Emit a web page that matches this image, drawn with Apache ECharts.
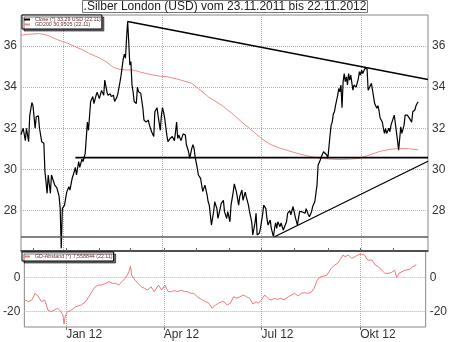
<!DOCTYPE html>
<html><head><meta charset="utf-8">
<script src="https://cdn.jsdelivr.net/npm/echarts@6/dist/echarts.min.js"></script>
<style>html,body{margin:0;padding:0;background:#fff}#c{width:450px;height:342px}</style>
</head><body><div id="c"></div><script>
const titleText = '.Silber London (USD) vom 23.11.2011 bis 22.11.2012';
// x values are days since 23.11.2011
const quarterDays = [39, 130, 221, 313];
const quarterLabels = ['Jan 12', 'Apr 12', 'Jul 12', 'Okt 12'];
const monthDays = [8, 39, 70, 99, 130, 160, 191, 221, 252, 283, 313, 344];
const priceTicks = [28, 30, 32, 34, 36];
const spreadTicks = [-20, 0];
const closeName = 'Close (*) 33,29 USD (22.11)';
const gdName = 'GD200 30,9505 (22.11)';
const spreadName = 'GD-Abstand (*) 7,558844 (22.11)';

const closeData = [[0,31.7],[2,32.0],[4,31.4],[5,32.0],[7,31.35],[8,32.6],[10,33.25],[11,33.1],[13,32.0],[14,32.56],[16,32.6],[17,32.0],[19,31.35],[21,31.27],[22,29.9],[24,28.84],[25,29.73],[27,28.84],[28,29.73],[30,29.4],[31,29.24],[33,29.1],[35,28.7],[36,28.1],[37,26.17],[38,28.1],[40,28.27],[42,28.9],[44,29.16],[45,29.0],[47,29.57],[48,29.73],[50,30.1],[51,29.73],[53,30.38],[54,30.1],[56,30.5],[57,30.38],[59,30.78],[60,30.86],[61,32.3],[62,31.9],[63,31.83],[64,33.3],[66,33.54],[67,33.2],[69,33.6],[70,33.75],[72,33.44],[74,33.84],[76,33.6],[77,34.34],[79,33.75],[80,33.6],[82,33.67],[83,33.54],[85,33.6],[86,33.3],[88,33.5],[89,33.67],[91,34.26],[92,34.58],[94,35.39],[95,35.6],[96,35.4],[97,36.36],[98,37.2],[99,36.2],[100,35.07],[101,35.23],[102,34.1],[103,33.77],[104,33.3],[106,33.2],[107,34.0],[108,33.77],[110,33.7],[112,32.97],[113,32.4],[115,32.3],[117,32.4],[118,32.15],[120,31.83],[122,31.6],
[123,32.8],[125,33.0],[126,32.6],[128,31.9],[129,32.6],[130,33.0],[131,32.8],[132,32.5],[134,31.67],[135,31.35],[137,31.5],[139,31.6],[141,31.4],[142,31.83],[143,32.3],[144,31.5],[145,31.67],[147,31.4],[149,31.73],[151,31.67],[152,31.2],[154,30.86],[155,30.54],[157,31.03],[158,31.2],[159,31.03],[160,30.62],[162,30.05],[163,29.73],[165,29.57],[167,28.93],[169,29.24],[171,28.76],[172,28.43],[173,28.27],[175,27.3],[177,27.95],[178,28.43],[180,28.1],[181,27.62],[183,28.1],[184,28.35],[186,28.5],[187,27.95],[189,27.62],[190,27.95],[192,27.46],[193,28.27],[195,28.9],[196,29.3],[198,28.9],[200,28.27],[201,28.68],[203,29.0],[204,28.5],[206,28.9],[207,28.68],[209,28.27],[210,27.95],[212,27.46],[213,26.82],[215,27.4],[216,27.87],[217,26.82],[219,26.9],[220,27.14],[222,27.8],[223,28.27],[225,28.1],[226,27.62],[227,27.3],[229,27.54],[230,27.14],[232,26.73],[233,27.14],[234,27.4],[235,27.14],[236,27.46],[238,27.22],[239,27.4],[241,27.06],[242,27.14],[244,27.46],[245,27.87],
[247,28.0],[248,27.8],[250,28.2],[252,27.7],[254,27.3],[255,27.62],[256,27.95],[258,27.95],[259,28.0],[261,27.87],[262,28.1],[264,27.8],[265,27.7],[267,27.95],[268,28.2],[270,28.43],[272,29.24],[273,30.2],[275,30.46],[276,30.62],[278,30.86],[279,30.78],[281,30.7],[282,30.54],[283,30.62],[284,31.67],[285,32.15],[286,32.3],[287,32.7],[288,32.8],[289,33.1],[291,33.6],[292,33.93],[293,33.77],[294,34.1],[295,33.0],[296,34.26],[297,34.66],[298,34.26],[299,34.5],[300,34.1],[301,34.66],[302,34.34],[303,34.58],[305,33.85],[306,34.1],[307,34.18],[308,34.0],[310,34.42],[311,34.75],[312,34.58],[313,34.82],[314,34.66],[316,34.9],[317,34.99],[318,34.9],[319,33.85],[320,33.93],[322,34.18],[323,33.85],[324,33.77],[325,33.2],[327,32.97],[328,33.1],[329,32.85],[330,32.5],[332,32.3],[333,32.0],[334,31.75],[335,32.0],[336,31.75],[338,32.0],[339,31.83],[340,32.15],[342,32.48],[343,32.64],[344,32.23],[346,31.4],[347,30.94],[348,31.5],[349,32.07],[350,31.75],[352,32.15],[353,32.64],[354,32.56],[355,32.64],[357,32.48],[358,32.4],[359,32.3],[360,32.8],[362,32.9],[363,33.1],[364,33.2],[365,33.29]];

const gd200Data = [[0,36.52],[8,36.57],[17,36.6],[24,36.52],[30,36.38],[36,36.25],[42,36.15],[48,36.0],[57,35.8],[63,35.62],[72,35.42],[79,35.2],[85,34.95],[91,34.86],[97,34.83],[103,34.83],[109,34.74],[118,34.62],[128,34.53],[135,34.5],[147,34.34],[157,34.18],[163,33.93],[172,33.53],[184,33.13],[194,32.72],[203,32.3],[212,31.9],[221,31.5],[229,31.22],[236,31.07],[245,30.92],[256,30.75],[265,30.64],[274,30.55],[284,30.5],[293,30.48],[302,30.5],[311,30.54],[320,30.7],[330,30.88],[339,30.98],[348,31.02],[357,31.0],[365,30.95]];

const spreadData = [[0,-13.0],[4,-14.2],[7,-13.2],[10,-9.3],[13,-11.3],[16,-14.2],[19,-13.2],[22,-19.0],[25,-20.0],[28,-19.0],[31,-18.0],[34,-20.0],[36,-21.9],[37,-27.2],[38,-22.9],[40,-20.0],[43,-19.4],[48,-17.1],[53,-16.1],[57,-14.2],[60,-11.3],[63,-8.3],[66,-5.5],[69,-4.5],[72,-4.5],[76,-3.5],[79,-2.5],[82,-3.5],[85,-3.5],[88,-4.5],[91,-2.5],[94,-0.6],[96,1.3],[98,4.2],[99,6.6],[100,1.3],[103,-1.6],[106,-3.5],[109,-5.5],[112,-6.4],[115,-7.4],[118,-5.5],[121,-8.3],[125,-4.5],[128,-7.4],[131,-4.5],[134,-8.3],[137,-8.3],[140,-7.7],[143,-8.3],[146,-7.4],[149,-8.3],[152,-8.3],[155,-9.3],[158,-9.3],[161,-11.3],[166,-13.2],[169,-14.2],[172,-15.1],[175,-18.0],[178,-16.1],[181,-15.1],[184,-14.2],[186,-14.2],[189,-16.1],[192,-15.1],[195,-11.3],[198,-12.2],[201,-11.3],[204,-10.3],[207,-11.3],[210,-12.2],[213,-15.5],[216,-14.2],[218,-15.1],[221,-13.2],[224,-10.3],[228,-12.8],[230,-13.2],[233,-12.2],[236,-12.8],[239,-12.2],[242,-13.2],[246,-11.3],[249,-10.3],[252,-9.3],[255,-10.9],[258,-9.3],[261,-8.9],[264,-9.3],[267,-8.9],[270,-6.4],[273,-1.6],[276,0.4],[280,0.8],[282,1.3],[286,5.2],[289,7.1],[292,8.1],[295,11.0],[297,13.0],[299,12.0],[302,13.0],[305,11.0],[308,12.0],[311,13.0],[314,13.5],[317,13.0],[320,10.0],[324,10.0],[327,7.1],[330,6.2],[333,4.2],[336,2.3],[339,2.3],[342,2.7],[345,4.2],[347,0.0],[349,2.3],[352,3.3],[355,4.2],[359,4.6],[362,6.2],[364,6.6],[365,7.56]];

const resistanceLine = [[98,37.18],[374,34.37]];
const neckLine = [[50,30.57],[374,30.57]];
const supportLine = [[233,26.73],[374,30.40]];
const lowLine = [[0,26.72],[374,26.72]];

const FONT = 'Liberation Sans, Arial, sans-serif';
const dotted = {show:true, lineStyle:{color:'#b0b0b0', type:'dotted', width:1}};
const qFormatter = v => { const i = quarterDays.indexOf(v); return i >= 0 ? quarterLabels[i] : ''; };

function yAx(grid, pos, min, max, ticks, split) {
  return {gridIndex:grid, type:'value', position:pos, min:min, max:max,
    axisLine:{show:false}, axisTick:{show:false, customValues:ticks},
    axisLabel:{customValues:ticks, margin:4, fontSize:12, color:'#333', fontFamily:FONT},
    splitLine: split ? dotted : {show:false}};
}
function trend(name, data, color, width) {
  return {type:'line', name:name, xAxisIndex:0, yAxisIndex:0, data:data, symbol:'none',
    color:color, lineStyle:{color:color, width:width}, z:5, silent:true};
}
const legendBase = {orient:'vertical', left:22, padding:[2,1,2,2], itemWidth:6, itemHeight:2, itemGap:0,
  icon:'rect', selectedMode:false, backgroundColor:'#fff', borderColor:'#000', borderWidth:1,
  shadowColor:'rgba(0,0,0,0.55)', shadowOffsetX:2, shadowOffsetY:2, shadowBlur:0,
  textStyle:{fontSize:5.3, lineHeight:5, color:'#6b2f2f', fontFamily:FONT}};

const option = {
  animation:false,
  backgroundColor:'#fff',
  title:{text:titleText, left:'center', top:1, padding:[0,1], borderColor:'#777', borderWidth:1,
    backgroundColor:'#fff', textStyle:{fontSize:12, fontWeight:'normal', color:'#222', fontFamily:FONT, lineHeight:11}},
  legend:[
    Object.assign({}, legendBase, {top:15, data:[closeName, gdName]}),
    Object.assign({}, legendBase, {top:252, data:[spreadName]})
  ],
  grid:[
    {left:21, top:15, width:407, height:236, show:true, borderColor:'#888', borderWidth:1},
    {left:21, top:251, width:407, height:76, show:true, borderColor:'#888', borderWidth:1}
  ],
  xAxis:[
    {gridIndex:0, type:'value', min:0, max:374, axisLine:{show:true, onZero:false, lineStyle:{color:'#333', width:1.5}},
      axisTick:{show:false, customValues:quarterDays}, axisLabel:{show:false}, splitLine:dotted},
    {gridIndex:1, type:'value', min:0, max:374, axisLine:{show:false, onZero:false},
      axisTick:{show:true, customValues:quarterDays, length:3, lineStyle:{color:'#666'}},
      axisLabel:{customValues:quarterDays, formatter:qFormatter, align:'left', margin:2, fontSize:12, color:'#333', fontFamily:FONT},
      splitLine:dotted},
    {gridIndex:1, type:'value', min:0, max:374, axisLine:{show:false, onZero:false},
      axisTick:{show:true, customValues:monthDays, length:3, lineStyle:{color:'#666'}},
      axisLabel:{show:false}, splitLine:{show:false}}
  ],
  yAxis:[
    yAx(0, 'left', 26.04, 37.5, priceTicks, true),
    yAx(0, 'right', 26.04, 37.5, priceTicks, false),
    yAx(1, 'left', -28.9, 15.3, spreadTicks, true),
    yAx(1, 'right', -28.9, 15.3, spreadTicks, false)
  ],
  series:[
    {type:'line', name:gdName, xAxisIndex:0, yAxisIndex:0, data:gd200Data, symbol:'none', color:'#f08a8a',
      lineStyle:{color:'#f08a8a', width:1}, z:2, silent:true},
    trend('low', lowLine, '#5a5a5a', 1.6),
    {type:'line', name:closeName, xAxisIndex:0, yAxisIndex:0, data:closeData, symbol:'none', color:'#000',
      lineStyle:{color:'#000', width:1.2}, z:3, silent:true},
    trend('resistance', resistanceLine, '#000', 1.5),
    trend('neck', neckLine, '#000', 1.8),
    trend('support', supportLine, '#000', 1.3),
    {type:'line', name:spreadName, xAxisIndex:1, yAxisIndex:2, data:spreadData, symbol:'none', color:'#f07878',
      lineStyle:{color:'#f07878', width:1}, z:2, silent:true}
  ]
};
const chart = echarts.init(document.getElementById('c'), null, {renderer:'canvas'});
chart.setOption(option);
</script></body></html>
